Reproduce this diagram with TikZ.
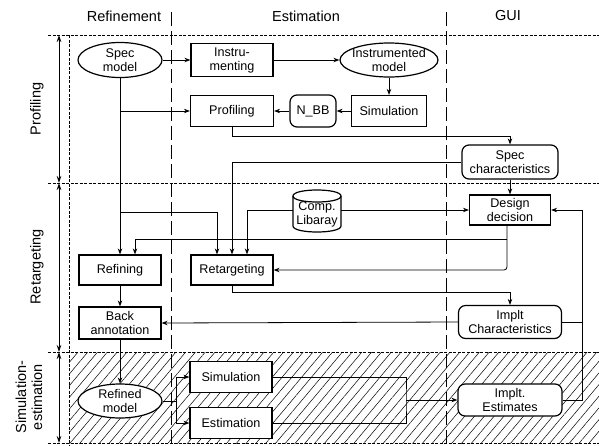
\documentclass[tikz,border=0pt]{standalone}
\usepackage{fontspec}
\setmainfont{Liberation Sans}
\usetikzlibrary{arrows.meta,patterns.meta,shapes.geometric}
\begin{document}
\begin{tikzpicture}[x=1pt,y=-1pt,
  nf/.style={font=\fontsize{12.6}{14}\selectfont},
  box/.style={draw, line width=1.2pt, fill=white, inner sep=0pt, align=center, nf},
  rbox/.style={box, rounded corners=7pt},
  ell/.style={draw, line width=1.2pt, fill=white, ellipse, inner sep=0pt},
  con/.style={line width=0.8pt},
  arr/.style={con, -{Stealth[length=6pt,width=4.5pt]}},
  sect/.style={line width=0.8pt, dash pattern=on 3pt off 1.5pt},
  col/.style={line width=0.9pt, dash pattern=on 14pt off 5pt},
  hd/.style={font=\fontsize{14.5}{16}\selectfont, align=center},
  dim/.style={line width=0.8pt, {Stealth[length=7pt,width=4.5pt]}-{Stealth[length=7pt,width=4.5pt]}},
]
\useasboundingbox (0,0) rectangle (599,445);
% hatched band
\fill[pattern={Lines[angle=50,distance=7.5pt,line width=0.5pt]}] (69,352) rectangle (599,443);
% column separators
\draw[col] (171,12) -- (171,445);
\draw[col] (446,12) -- (446,445);
% section lines
\draw[sect] (48,35) -- (599,35);
\draw[sect] (48,183) -- (599,183);
\draw[sect] (48,352) -- (599,352);
\draw[sect] (48,443) -- (599,443);
\draw[sect] (69,35) -- (69,445);
% dimension arrows
\draw[dim] (59,35) -- (59,183);
\draw[dim] (59,183) -- (59,352);
\draw[dim] (59,352) -- (59,443);
% headers
\node[hd] (hRef) at (124,16) {Refinement};
\node[hd] (hEst) at (306,16) {Estimation};
\node[hd] (hGui) at (508,16) {GUI};
\node[hd, rotate=90] (lProf) at (37,109) {Profiling};
\node[hd, rotate=90] (lRet) at (37,267) {Retargeting};
\node[hd, rotate=90] (lSim) at (29,397) {Simulation-\\estimation};
% nodes
\node[ell, minimum width=84pt, minimum height=35pt] (spec) at (120,60) {};
\node[nf, align=center] (specT) at (spec) {Spec\\model};
\node[box, minimum width=82pt, minimum height=33pt] (instr) at (232,60) {Instru-\\menting};
\node[ell, minimum width=98pt, minimum height=34pt] (im) at (389,60) {};
\node[nf, align=center] (imT) at (im) {Instrumented\\model};
\node[box, minimum width=75pt, minimum height=31pt] (sim1) at (389,111) {Simulation};
\node[rbox, minimum width=46pt, minimum height=32pt] (nbb) at (313,111) {N\_BB};
\node[box, minimum width=83pt, minimum height=31pt] (prof) at (232,111) {Profiling};
\node[rbox, minimum width=96pt, minimum height=34pt] (specc) at (510,162) {Spec\\characteristics};
\node[minimum width=48pt, minimum height=42pt, inner sep=0pt] (lib) at (317,210) {};
\draw[line width=1.2pt, fill=white] (293,196) .. controls (293,188) and (341,188) .. (341,196)
  -- (341,226) .. controls (341,234) and (293,234) .. (293,226) -- cycle;
\draw[line width=1.2pt] (293,196) .. controls (293,204) and (341,204) .. (341,196);
\node[nf, align=center] (libT) at (317,214) {Comp.\\Libaray};
\node[box, minimum width=81pt, minimum height=30pt] (design) at (510,210) {Design\\decision};
\node[box, minimum width=82pt, minimum height=30pt] (refin) at (120,270) {Refining};
\node[box, minimum width=82pt, minimum height=30pt] (retarg) at (232,270) {Retargeting};
\node[box, minimum width=82pt, minimum height=32pt] (back) at (120,323) {Back\\annotation};
\node[rbox, minimum width=103pt, minimum height=33pt] (implc) at (510,322) {Implt\\Characteristics};
\node[ell, minimum width=84pt, minimum height=34pt] (refined) at (120,401) {};
\node[nf, align=center] (refinedT) at (refined) {Refined\\model};
\node[box, minimum width=82pt, minimum height=31pt] (sim2) at (231,377) {Simulation};
\node[box, minimum width=82pt, minimum height=31pt] (est) at (231,423) {Estimation};
\node[rbox, minimum width=104pt, minimum height=32pt] (implest) at (510,400) {Implt.\\Estimates};
% connectors
\draw[arr] (spec.east) -- (instr.west);
\draw[arr] (instr.east) -- (im.west);
\draw[arr] (im.south) -- (sim1.north);
\draw[arr] (sim1.west) -- (nbb.east);
\draw[arr] (nbb.west) -- (prof.east);
\draw[arr] (spec.south) -- (refin.north);
\draw[arr] (spec.south |- prof.west) -- (prof.west);
\draw[arr] (spec.south |- 0,212) -| ([xshift=-15pt]retarg.north);
\draw[arr] (prof.south) -- (prof.south |- 0,136) -| (specc.north);
\draw[arr] (specc.west) -| (retarg.north);
\draw[arr] (lib.west) -| ([xshift=15pt]retarg.north);
\draw[arr] (lib.east) -- (design.west);
\draw[arr] (specc.south) -- (design.north);
\draw[arr, rounded corners=3pt] ([xshift=-3pt]design.south) |- (retarg.east);
\draw[arr] ([xshift=-3pt]design.south |- 0,239) -| ([xshift=15pt]refin.north);
\draw[arr] (retarg.south) -- (retarg.south |- 0,292) -| (implc.north);
\draw[arr] (implc.west) -- (back.east);
\draw[arr] (refin.south) -- (back.north);
\draw[arr] (back.south) -- (refined.north);
\coordinate (rb) at (582,210);
\draw[con] (implc.east) -- (implc.east -| rb);
\draw[arr] (implest.east) -| (rb) -- (design.east);
\coordinate (sp) at (176,401);
\draw[con] (refined.east) -- (sp);
\draw[arr] (sp) |- (sim2.west);
\draw[arr] (sp) |- (est.west);
\coordinate (bk) at (406,400);
\draw[con] (sim2.east) -| (bk) |- (est.east);
\draw[arr] (bk) -- (implest.west);
\end{tikzpicture}
\end{document}
